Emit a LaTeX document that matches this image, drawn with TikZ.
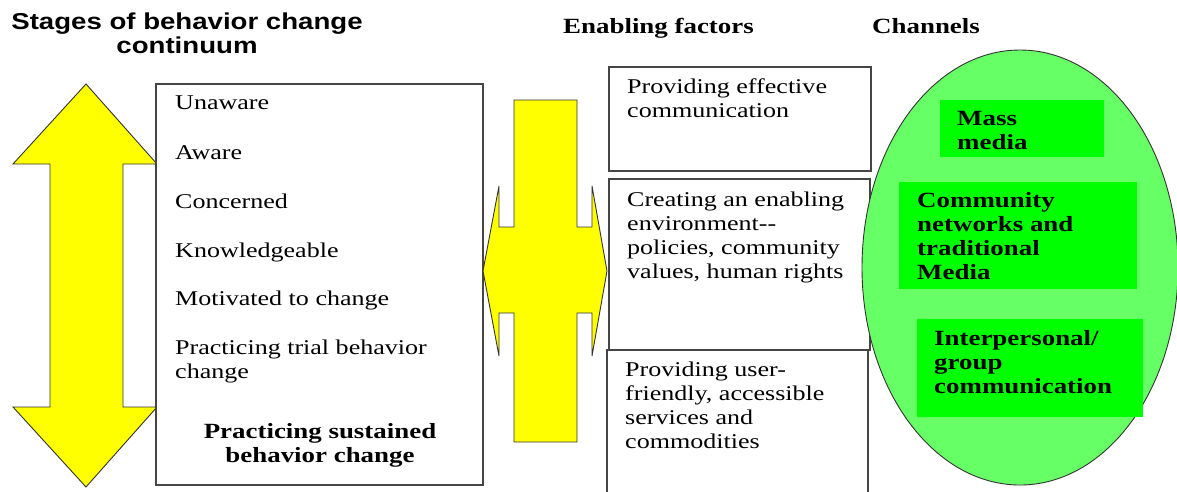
\documentclass[tikz,border=0pt]{standalone}
\usepackage{fontspec}
\setmainfont{Liberation Serif}[FakeStretch=1.24]
\newfontfamily\headsans{Liberation Sans}[FakeStretch=1.2]
\usetikzlibrary{shapes.geometric}

\definecolor{boxgray}{HTML}{454545}
\definecolor{arrowyellow}{HTML}{FFFF00}
\definecolor{channelbg}{HTML}{66FF66}
\definecolor{channelbox}{HTML}{00FF00}

% left-aligned / centred stacks whose baseline is the first line
\newcommand\stackL[1]{\begin{tabular}[t]{@{}l@{}}#1\end{tabular}}
\newcommand\stackC[1]{\begin{tabular}[t]{@{}c@{}}#1\end{tabular}}

\tikzset{
  panel/.style={draw=boxgray, line width=1.3pt, fill=white},
  bigarrow/.style={draw=black!80, line width=0.9pt, fill=arrowyellow, line join=miter},
  stage/.style={anchor=base west, inner sep=0pt, font=\fontsize{21}{24}\selectfont},
  factor/.style={anchor=base west, inner sep=0pt, font=\fontsize{21}{24}\selectfont},
  channel/.style={fill=channelbox, draw=none, inner sep=0pt},
  channeltext/.style={anchor=base west, inner sep=0pt, font=\fontsize{21.7}{24.3}\selectfont\bfseries},
  heading/.style={anchor=base west, inner sep=0pt, font=\fontsize{21.7}{24}\selectfont\bfseries},
}

\begin{document}
\begin{tikzpicture}[x=1pt, y=-1pt]
\useasboundingbox (0,0) rectangle (1177,491);
\fill[white] (0,0) rectangle (1177,491);

% headings
\node[anchor=base, inner sep=0pt, font=\headsans\fontsize{23}{24.5}\selectfont\bfseries] (hstages) at (187,29)
  {\stackC{Stages of behavior change\\ continuum}};
\node[heading] (hfactors) at (563,33) {Enabling factors};
\node[heading] (hchannels) at (872,33) {Channels};

% double-headed vertical arrow: the behaviour change continuum
\draw[bigarrow] (86,84) -- (157,164) -- (123,164) -- (123,407) -- (157,407)
  -- (86,487) -- (13,407) -- (50,407) -- (50,164) -- (13,164) -- cycle;

% stages panel
\draw[panel] (156,84) rectangle (483,485);
\node[stage] (s1) at (175,109) {Unaware};
\node[stage] (s2) at (175,159) {Aware};
\node[stage] (s3) at (175,208) {Concerned};
\node[stage] (s4) at (175,257) {Knowledgeable};
\node[stage] (s5) at (175,305) {Motivated to change};
\node[stage] (s6) at (175,354) {\stackL{Practicing trial behavior\\ change}};
\node[stage, anchor=base, font=\fontsize{21.7}{24.3}\selectfont\bfseries] (s7) at (320,438)
  {\stackC{Practicing sustained\\ behavior change}};

% cross-shaped arrow linking stages and enabling factors
\draw[bigarrow] (514,100) -- (577,100) -- (577,227) -- (592,227) -- (592,186)
  -- (607,271) -- (592,356) -- (592,313) -- (577,313) -- (577,442)
  -- (514,442) -- (514,313) -- (499,313) -- (499,356) -- (483,271)
  -- (499,186) -- (499,227) -- (514,227) -- cycle;

% enabling factor panels
\draw[panel] (609,67) rectangle (871,171);
\draw[panel] (609,179) rectangle (870,350);
\draw[panel] (607,350) rectangle (868,500);
\node[factor] (f1) at (627,93) {\stackL{Providing effective\\ communication}};
\node[factor] (f2) at (627,206) {\stackL{Creating an enabling\\ environment-{}-\\ policies, community\\ values, human rights}};
\node[factor] (f3) at (625,376) {\stackL{Providing user-\\ friendly, accessible\\ services and\\ commodities}};

% channels
\node[ellipse, draw=black!80, line width=0.9pt, fill=channelbg, minimum width=316pt,
      minimum height=435pt, inner sep=0pt] (chan) at (1020,267.5) {};
\fill[channelbox] (940,100) rectangle (1104,157);
\fill[channelbox] (899,182) rectangle (1137,289);
\fill[channelbox] (917,319) rectangle (1143,417);
\node[channeltext] (c1) at (957,125) {\stackL{Mass\\ media}};
\node[channeltext] (c2) at (917,207) {\stackL{Community\\ networks and\\ traditional\\ Media}};
\node[channeltext] (c3) at (934,345) {\stackL{Interpersonal/\\ group\\ communication}};
\end{tikzpicture}
\end{document}
